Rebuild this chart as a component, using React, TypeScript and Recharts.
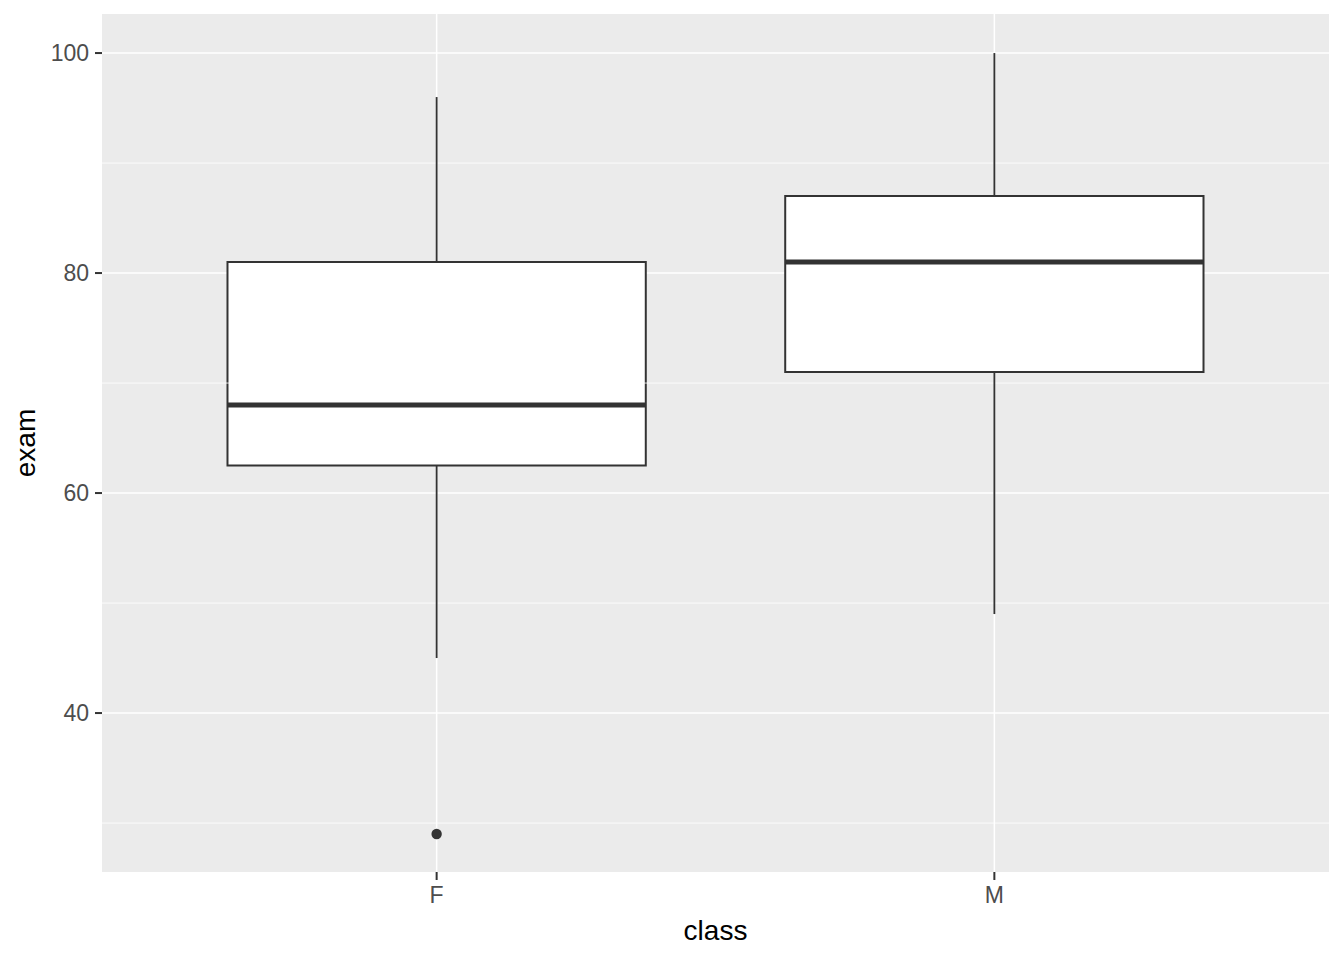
import {
  ComposedChart,
  XAxis,
  YAxis,
  CartesianGrid,
  ReferenceArea,
  ReferenceLine,
  Scatter,
} from "recharts";

// box plot stats per class
const classes = ["F", "M"];
const lowerWhisker = [45, 49];
const q1 = [62.5, 71];
const median = [68, 81];
const q3 = [81, 87];
const upperWhisker = [96, 100];
const outliers = [{ x: 1, y: 29 }];

const yTicks = [40, 60, 80, 100];
const yMinor = [30, 50, 70, 90];
const xTicks = [1, 2];

const BOX_HALF = 0.375;
const INK = "#333333";
const FONT = "Liberation Sans, Arial, sans-serif";
const axisText = { fill: "#4D4D4D", fontSize: 23, fontFamily: FONT };

const XTitle = (props: any) => {
  const vb = props.viewBox || {};
  return (
    <text x={vb.x + vb.width / 2} y={940} textAnchor="middle" fontSize={28} fontFamily={FONT} fill="#000">
      class
    </text>
  );
};

const YTitle = (props: any) => {
  const vb = props.viewBox || {};
  const cy = vb.y + vb.height / 2;
  return (
    <text
      x={35}
      y={cy}
      transform={`rotate(-90, 35, ${cy})`}
      textAnchor="middle"
      fontSize={28}
      fontFamily={FONT}
      fill="#000"
    >
      exam
    </text>
  );
};

export default function App() {
  return (
    <div style={{ position: "absolute", left: 0, top: 0, width: 1344, height: 960, background: "#fff" }}>
      <ComposedChart
        width={1344}
        height={960}
        margin={{ top: 14, right: 15, bottom: 0, left: 0 }}
        style={{ fontFamily: FONT }}
      >
        <CartesianGrid
          fill="#EBEBEB"
          stroke="#FFFFFF"
          strokeWidth={1.5}
          horizontalValues={yTicks}
          verticalValues={xTicks}
        />
        {yMinor.map((v) => (
          <ReferenceLine key={v} y={v} stroke="#FFFFFF" strokeWidth={0.8} />
        ))}
        <XAxis
          type="number"
          dataKey="x"
          domain={[0.4, 2.6]}
          ticks={xTicks}
          tickFormatter={(v) => classes[v - 1] ?? ""}
          allowDataOverflow
          height={88}
          tick={axisText}
          tickSize={8}
          tickMargin={7}
          axisLine={false}
          tickLine={{ stroke: INK, strokeWidth: 2 }}
          label={{ content: <XTitle /> }}
        />
        <YAxis
          type="number"
          dataKey="y"
          domain={[25.55, 103.55]}
          ticks={yTicks}
          allowDataOverflow
          width={102}
          tick={axisText}
          tickSize={7}
          tickMargin={6}
          axisLine={false}
          tickLine={{ stroke: INK, strokeWidth: 2 }}
          label={{ content: <YTitle /> }}
        />
        {classes.map((c, i) => {
          const x = i + 1;
          return [
            <ReferenceLine
              key={c + "-lo"}
              segment={[{ x, y: lowerWhisker[i] }, { x, y: q1[i] }]}
              stroke={INK}
              strokeWidth={1.8}
            />,
            <ReferenceLine
              key={c + "-hi"}
              segment={[{ x, y: q3[i] }, { x, y: upperWhisker[i] }]}
              stroke={INK}
              strokeWidth={1.8}
            />,
            <ReferenceArea
              key={c + "-box"}
              x1={x - BOX_HALF}
              x2={x + BOX_HALF}
              y1={q1[i]}
              y2={q3[i]}
              fill="#FFFFFF"
              fillOpacity={1}
              stroke={INK}
              strokeWidth={2}
            />,
            <ReferenceLine
              key={c + "-med"}
              segment={[{ x: x - BOX_HALF, y: median[i] }, { x: x + BOX_HALF, y: median[i] }]}
              stroke={INK}
              strokeWidth={5}
            />,
          ];
        })}
        <Scatter
          data={outliers}
          fill={INK}
          isAnimationActive={false}
          shape={(p: any) => <circle cx={p.cx} cy={p.cy} r={5.2} fill={INK} />}
        />
      </ComposedChart>
    </div>
  );
}
